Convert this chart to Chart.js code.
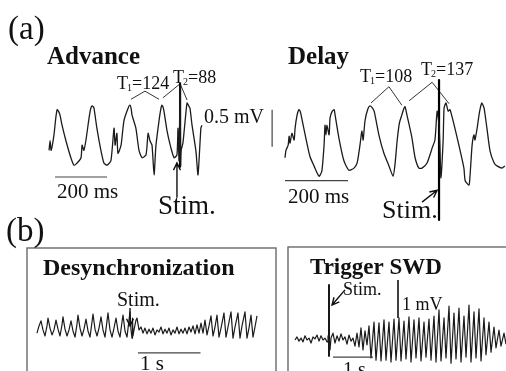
<!DOCTYPE html>
<html><head><meta charset="utf-8">
<script src="https://cdn.jsdelivr.net/npm/chart.js@4"></script>
<style>html,body{margin:0;padding:0;background:#fff;}canvas{display:block;}</style>
</head><body>
<canvas id="c" width="506" height="371"></canvas>
<script>
// ---- (a) Advance trace: time (ms), voltage (mV)
const advT = [4,8,12,23,30,35,40,46,54,69,88,100,112,127,131,138,146,158,164,169,174,177,188,204,215,227,242,254,258,265,269,281,292,308,315,320,323,338,350,362,377,385,392,400,408,415,427,433,438,442,446,458,473,485,496,500,504,508,510,512,519,531,535,540,546,554,569,577,588,592];
const advV = [-0.14,-0.01,-0.14,0.07,0.30,0.41,0.39,0.34,0.20,-0.01,-0.24,-0.34,-0.31,-0.24,-0.07,-0.14,0.0,0.30,0.42,0.46,0.45,0.43,0.16,-0.15,-0.31,-0.34,-0.28,0.16,-0.07,0.09,-0.18,-0.07,0.26,0.43,0.47,0.42,0.34,0.16,-0.14,-0.24,-0.20,0.09,-0.01,-0.07,-0.47,-0.08,0.26,0.40,0.47,0.45,0.39,0.12,-0.11,-0.24,-0.20,0.16,-0.28,0.74,-0.34,-0.14,-0.04,0.39,0.50,0.47,0.43,0.20,-0.15,-0.47,0.16,0.20];
// ---- (a) Delay trace: time (ms), voltage (mV)
const delT = [0,3,10,13,16,22,29,32,38,44,48,51,64,79,92,108,117,124,127,130,133,140,143,150,156,159,171,187,203,219,229,238,244,248,254,263,270,276,283,298,314,330,343,349,356,362,365,371,376,381,387,403,413,425,435,451,467,476,483,489,492,495,502,505,511,518,524,537,552,568,572,584,587,594,600,603,610,616,621,625,632,641,651,664,673,689,698];
const delV = [-0.24,-0.14,-0.07,0.05,-0.04,0.09,0,0.16,0.33,0.41,0.39,0.34,0.07,-0.22,-0.35,-0.49,-0.42,-0.07,0.20,0.07,0.20,0.07,0.30,0.39,0.41,0.34,0.03,-0.28,-0.41,-0.38,-0.31,-0.07,0.12,0,0.26,0.42,0.46,0.44,0.39,0.07,-0.18,-0.35,-0.49,-0.34,-0.01,0.20,0.26,0.34,0.41,0.45,0.34,0.03,-0.24,-0.38,-0.38,-0.31,-0.11,0,0.39,0.20,-0.11,-0.51,-0.01,0.43,0.50,0.39,0.41,0.20,-0.07,-0.38,-0.55,-0.61,-0.51,-0.07,0.07,0,0.16,0.34,0.45,0.50,0.43,0.16,-0.15,-0.31,-0.35,-0.38,-0.35];
// ---- (b) Desynchronization trace: time (ms), voltage (mV)
const desT = [0,32,64,96,128,160,176,208,240,272,304,336,368,400,416,448,480,512,544,576,608,640,656,688,720,752,784,816,848,880,896,928,960,992,1024,1056,1088,1120,1136,1168,1200,1232,1264,1296,1328,1360,1376,1408,1440,1472,1488,1504,1520,1528,1536,1552,1584,1600,1632,1664,1696,1728,1760,1792,1824,1856,1888,1920,1952,1984,2016,2048,2080,2112,2144,2176,2208,2240,2272,2304,2336,2368,2400,2432,2464,2496,2528,2560,2592,2624,2656,2688,2720,2752,2784,2816,2848,2880,2912,2944,2992,3024,3056,3104,3136,3168,3216,3248,3280,3328,3360,3392,3424,3456,3488,3520];
const desV = [-0.17,0.03,0.17,-0.08,-0.25,0.03,0.25,-0.03,-0.22,-0.08,0.19,-0.06,-0.25,0.06,0.28,-0.06,-0.25,-0.08,0.17,-0.11,-0.28,0.08,0.33,-0.03,-0.25,-0.06,0.22,-0.11,-0.28,0.14,0.36,-0.06,-0.25,-0.03,0.28,-0.08,-0.28,0.17,0.39,-0.08,-0.28,-0.03,0.25,-0.11,-0.28,0.14,0.33,-0.11,-0.28,0.19,0.42,-0.08,-0.31,0.25,-0.25,-0.08,0.19,0.25,-0.08,0,-0.17,-0.03,-0.19,-0.06,-0.17,-0.03,-0.22,-0.08,-0.14,0,-0.19,-0.06,-0.17,-0.03,-0.22,-0.08,-0.17,0,-0.19,-0.06,-0.17,-0.03,-0.19,0,-0.14,0.03,-0.19,0.06,-0.17,0.11,-0.17,0.19,-0.22,0.03,0.31,-0.25,0,0.33,-0.28,-0.03,0.39,-0.28,0,0.42,-0.31,0,0.39,-0.31,0.03,0.42,-0.31,-0.03,0.33,-0.28,0,0.31];
// ---- (b) Trigger SWD trace: time (s), voltage (mV)
const trgT = [0,.05,.1,.15,.2,.25,.3,.35,.4,.45,.5,.55,.6,.65,.7,.75,.8,.825,.875,.9,.95,1.0,1.05,1.1,1.15,1.2,1.25,1.3,1.35,1.4,1.45,1.5,1.55,1.6,1.65,1.7,1.75,1.8,1.85,1.9,1.975,2.025,2.1,2.15,2.225,2.275,2.35,2.4,2.475,2.525,2.6,2.65,2.725,2.775,2.85,2.9,2.975,3.025,3.1,3.15,3.225,3.275,3.35,3.4,3.475,3.525,3.6,3.65,3.725,3.775,3.85,3.9,3.975,4.025,4.1,4.15,4.225,4.275,4.35,4.4,4.475,4.525,4.6,4.65,4.725,4.775,4.85,4.9,4.975,5.025,5.1,5.15,5.225,5.275];
const trgV = [0,.08,-.03,.05,-.05,.11,0,.05,-.08,.08,.03,.13,-.03,.11,0,.05,-.05,.11,-.26,.05,.18,-.08,.11,-.03,.16,0,.08,-.11,.13,-.03,.05,-.16,.18,-.18,.32,-.26,.24,-.13,.37,-.47,.47,-.53,.45,-.55,.53,-.53,.47,-.58,.55,-.53,.58,-.55,.50,-.50,.61,-.58,.53,-.47,.58,-.55,.47,-.45,.55,-.53,.63,-.58,.79,-.55,.58,-.47,.89,-.61,.71,-.50,.84,-.58,.63,-.45,.92,-.58,.74,-.47,.82,-.55,.58,-.39,.47,-.32,.34,-.21,.26,-.16,.18,-.11];

// ---- stimulus markers, peak brackets, scale bars (data units)
const advStimT = 508, advStimV = [0.76, -0.36];
const delStimT = 489, delStimV = [0.81, -1.08];
const trgStimT = 0.85, trgStimV = [1.45, -0.42];
const advT1Br = {t:[319,373,427], v:[0.55,0.66,0.55]};
const advT2Br = {t:[442,508,535], v:[0.57,0.76,0.54]};
const delT1Br = {t:[273,330,371], v:[0.50,0.72,0.47]};
const delT2Br = {t:[394,467,521], v:[0.53,0.78,0.49]};
const advBarMs = [27, 227], advBarMsV = -0.5;
const advBarMvT = 862, advBarMv = [-0.09, 0.41];
const delBarMs = [0, 200], delBarMsV = -0.55;
const desBarS = [1616, 2616], desBarSV = -0.72;
const trgBarS = [0.95, 1.95], trgBarSV = -0.45;
const trgBarMvT = 2.575, trgBarMv = [0.58, 1.58];

const pts = (ts, vs) => ts.map((t, i) => ({x: t, y: vs[i]}));
const INK = '#1b1b1b';
function ds(data, xID, yID, w, color, tension) {
  return {data, xAxisID: xID, yAxisID: yID, borderColor: color || INK, borderWidth: w,
    showLine: true, pointRadius: 0, fill: false, tension: tension || 0, borderJoinStyle: 'round', borderCapStyle: 'butt'};
}
const datasets = [
  ds(pts(advT, advV), 'xA', 'yA', 1.3, INK, 0.2),
  ds(pts(delT, delV), 'xD', 'yA', 1.3, INK, 0.2),
  ds(pts(desT, desV), 'xS', 'yS', 1.2),
  ds(pts(trgT, trgV), 'xT', 'yT', 1.2),
  ds([{x: advStimT, y: advStimV[0]}, {x: advStimT, y: advStimV[1]}], 'xA', 'yA', 2.2, '#000'),
  ds([{x: delStimT, y: delStimV[0]}, {x: delStimT, y: delStimV[1]}], 'xD', 'yA', 2.2, '#000'),
  ds([{x: trgStimT, y: trgStimV[0]}, {x: trgStimT, y: trgStimV[1]}], 'xT', 'yT', 1.8, '#000'),
  ds(pts(advT1Br.t, advT1Br.v), 'xA', 'yA', 1, '#333'),
  ds(pts(advT2Br.t, advT2Br.v), 'xA', 'yA', 1, '#333'),
  ds(pts(delT1Br.t, delT1Br.v), 'xD', 'yA', 1, '#333'),
  ds(pts(delT2Br.t, delT2Br.v), 'xD', 'yA', 1, '#333'),
  ds(advBarMs.map(t => ({x: t, y: advBarMsV})), 'xA', 'yA', 1.2, '#444'),
  ds(advBarMv.map(v => ({x: advBarMvT, y: v})), 'xA', 'yA', 1.2, '#444'),
  ds(delBarMs.map(t => ({x: t, y: delBarMsV})), 'xD', 'yA', 1.2, '#444'),
  ds(desBarS.map(t => ({x: t, y: desBarSV})), 'xS', 'yS', 1.2, '#444'),
  ds(trgBarS.map(t => ({x: t, y: trgBarSV})), 'xT', 'yT', 1.2, '#444'),
  ds(trgBarMv.map(v => ({x: trgBarMvT, y: v})), 'xT', 'yT', 1.6, '#111')
];

// arrows (data units): [xScale, yScale, tail, tip]
const arrows = [
  ['xA', 'yA', [496, -0.78], [496, -0.31]],
  ['xD', 'yA', [435, -0.84], [483, -0.68]],
  ['xS', 'yS', [1488, 0.53], [1488, 0.03]],
  ['xT', 'yT', [1.25, 1.32], [0.925, 0.92]]
];

const SERIF = '"Liberation Serif","Times New Roman",serif';
const texts = [
  ['(a)', 8, 39, 33, false],
  ['(b)', 6, 241, 33, false],
  ['Advance', 47, 64, 25, true],
  ['Delay', 288, 64, 25, true],
  ['0.5 mV', 204, 123, 20, false],
  ['200 ms', 57, 198, 21, false],
  ['200 ms', 288, 203, 21, false],
  ['Stim.', 158, 214, 27, false],
  ['Stim.', 382, 218, 26, false],
  ['Desynchronization', 43, 275, 24, true],
  ['Stim.', 117, 306, 20, false],
  ['1 s', 140, 370, 21, false],
  ['Trigger SWD', 310, 274, 23, true],
  ['Stim.', 343, 295, 18, false],
  ['1 mV', 402, 310, 18, false],
  ['1 s', 343, 376, 20, false]
];
const tLabels = [
  ['1', '=124', 117, 89],
  ['2', '=88', 173, 83],
  ['1', '=108', 360, 82],
  ['2', '=137', 421, 75]
];

const deco = {
  id: 'deco',
  beforeDatasetsDraw(chart) {
    const c = chart.ctx;
    c.save();
    c.strokeStyle = '#6a6a6a';
    c.lineWidth = 1.4;
    c.strokeRect(27, 248, 249, 140);
    c.strokeRect(288, 247, 240, 140);
    c.restore();
  },
  afterDatasetsDraw(chart) {
    const c = chart.ctx;
    c.save();
    c.fillStyle = '#111';
    c.textBaseline = 'alphabetic';
    for (const [s, x, y, size, bold] of texts) {
      c.font = (bold ? 'bold ' : '') + size + 'px ' + SERIF;
      c.fillText(s, x, y);
    }
    for (const [sub, rest, x, y] of tLabels) {
      c.font = '18px ' + SERIF;
      c.fillText('T', x, y);
      let w = c.measureText('T').width;
      c.font = '10px ' + SERIF;
      c.fillText(sub, x + w - 1, y + 2);
      const ws = c.measureText(sub).width;
      c.font = '18px ' + SERIF;
      c.fillText(rest, x + w - 1 + ws, y);
    }
    c.strokeStyle = '#111';
    c.lineWidth = 1.4;
    for (const [xs, ys, a, b] of arrows) {
      const X = chart.scales[xs], Y = chart.scales[ys];
      const x0 = X.getPixelForValue(a[0]), y0 = Y.getPixelForValue(a[1]);
      const x1 = X.getPixelForValue(b[0]), y1 = Y.getPixelForValue(b[1]);
      const ang = Math.atan2(y1 - y0, x1 - x0);
      c.beginPath();
      c.moveTo(x0, y0); c.lineTo(x1, y1);
      const L = 8, sp = 0.45;
      c.moveTo(x1 - L * Math.cos(ang - sp), y1 - L * Math.sin(ang - sp));
      c.lineTo(x1, y1);
      c.lineTo(x1 - L * Math.cos(ang + sp), y1 - L * Math.sin(ang + sp));
      c.stroke();
    }
    c.restore();
  }
};

const hid = (axis, min, max) => ({type: 'linear', axis, display: false, min, max});
new Chart(document.getElementById('c'), {
  type: 'scatter',
  data: {datasets},
  options: {
    responsive: false,
    animation: false,
    events: [],
    layout: {padding: 0},
    plugins: {legend: {display: false}, tooltip: {enabled: false}, title: {display: false}},
    scales: {
      xA: hid('x', -184.6, 1761.5),
      xD: hid('x', -904.8, 701.6),
      yA: hid('y', -3.122, 1.892),
      xS: hid('x', -592, 7504),
      yS: hid('y', -1.222, 9.083),
      xT: hid('x', -7.375, 5.275),
      yT: hid('y', -0.816, 8.947)
    }
  },
  plugins: [deco]
});
</script>
</body></html>
